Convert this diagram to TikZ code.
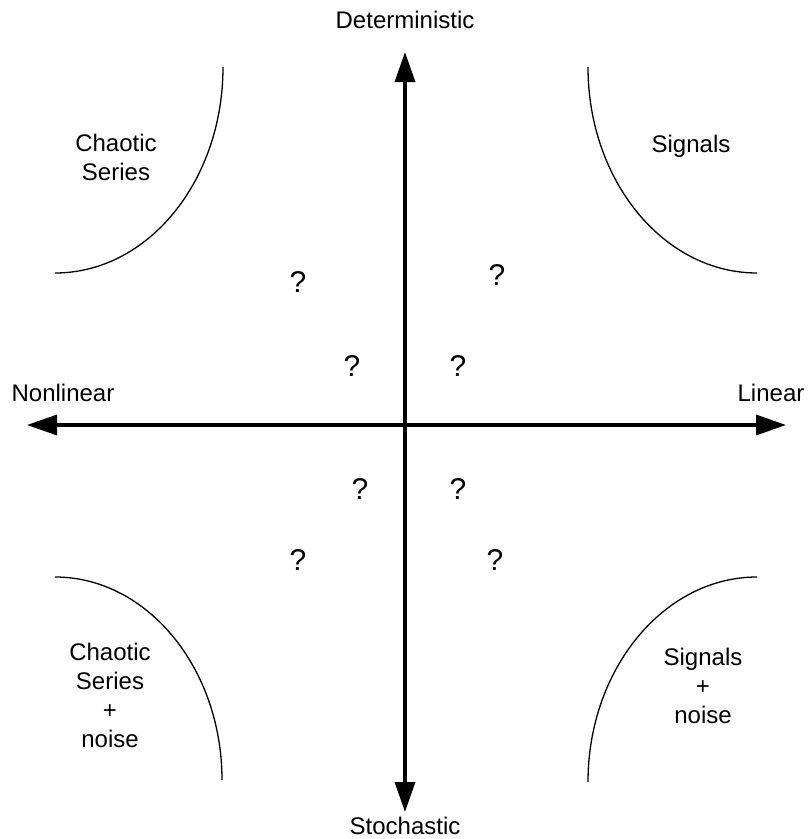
\documentclass[tikz,border=0pt]{standalone}
\usepackage{fontspec}
\setmainfont{Liberation Sans}
\usetikzlibrary{arrows.meta}
\begin{document}
\begin{tikzpicture}[x=1pt,y=-1pt,
  lbl/.style={font=\fontsize{24}{29}\selectfont, align=center, inner sep=0pt},
  qm/.style={font=\fontsize{30}{36}\selectfont, inner sep=0pt},
  axis/.style={line width=3.5pt, {Triangle[length=30pt,width=20pt]}-{Triangle[length=30pt,width=20pt]}},
  bound/.style={line width=1.3pt}]
\useasboundingbox (0,0) rectangle (807,839);
% axes
\coordinate (top) at (405,52);
\coordinate (bot) at (405,812);
\coordinate (left) at (27,425);
\coordinate (right) at (786,425);
\draw[axis] (bot) -- (top);
\draw[axis] (left) -- (right);
% axis labels
\node[lbl] (det) at (405,20) {Deterministic};
\node[lbl] (sto) at (405,826) {Stochastic};
\node[lbl] (nonlin) at (63,393) {Nonlinear};
\node[lbl] (lin) at (771,393) {Linear};
% corner arcs
\coordinate (tlA) at (223,67); \coordinate (tlB) at (55,273);
\coordinate (trA) at (588,67); \coordinate (trB) at (757,273);
\coordinate (blA) at (55,577); \coordinate (blB) at (222,780);
\coordinate (brA) at (757,577); \coordinate (brB) at (588,782);
\draw[bound] (tlA) .. controls (223,181) and (148,273) .. (tlB);
\draw[bound] (trA) .. controls (588,181) and (664,273) .. (trB);
\draw[bound] (blA) .. controls (147,577) and (222,668) .. (blB);
\draw[bound] (brA) .. controls (664,577) and (588,669) .. (brB);
% corner labels
\node[lbl] (chaos) at (116,157) {Chaotic\\Series};
\node[lbl] (sig) at (691,146) {Signals};
\node[lbl] (chaosn) at (110,695) {Chaotic\\Series\\+\\noise};
\node[lbl] (sign) at (703,686) {Signals\\+\\noise};
% question marks
\node[qm] (q1) at (298,282) {?};
\node[qm] (q2) at (497,275) {?};
\node[qm] (q3) at (352,366) {?};
\node[qm] (q4) at (458,366) {?};
\node[qm] (q5) at (360,489) {?};
\node[qm] (q6) at (458,489) {?};
\node[qm] (q7) at (298,560) {?};
\node[qm] (q8) at (495,560) {?};
\end{tikzpicture}
\end{document}
